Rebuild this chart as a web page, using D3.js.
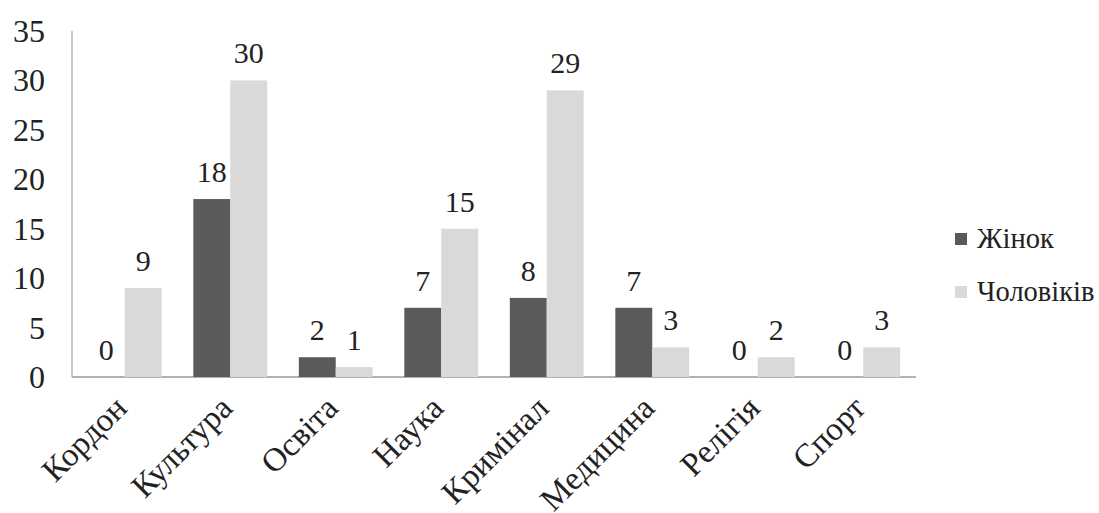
<html>
<head>
<script src="https://d3js.org/d3.v7.min.js"></script>
<style>
  body { margin: 0; background: #fff; }
  svg text { font-family: 'Liberation Serif', 'Times New Roman', Tinos, serif; }
</style>
</head>
<body>
<script>
    const categories = ["Кордон", "Культура", "Освіта", "Наука", "Кримінал", "Медицина", "Релігія", "Спорт"];
    const women = [0, 18, 2, 7, 8, 7, 0, 0];
    const men = [9, 30, 1, 15, 29, 3, 2, 3];
    const seriesNames = ["Жінок", "Чоловіків"];
    const colors = ["#5a5a5a", "#d9d9d9"];
    const yTicks = [0, 5, 10, 15, 20, 25, 30, 35];

    const W = 1099, H = 513;

    const svg = d3.select("body").append("svg")
        .attr("width", W)
        .attr("height", H)
        .style("font-family", "'Liberation Serif', serif");

    const x = d3.scaleBand().domain(categories).range([72, 916]).paddingInner(0.3).paddingOuter(0.15);
    const x1 = d3.scaleBand().domain(seriesNames).range([0, x.bandwidth()]);
    const y = d3.scaleLinear().domain([0, 35]).range([377, 31]);

    // y tick labels, no tick lines
    svg.selectAll(".ytick").data(yTicks).enter().append("text")
        .attr("x", 45)
        .attr("y", d => y(d) + 11)
        .attr("text-anchor", "end")
        .attr("font-size", 32)
        .attr("fill", "#222")
        .text(d => d);

    // axes lines
    svg.append("line").attr("x1", 72).attr("x2", 72).attr("y1", 31).attr("y2", 377)
        .attr("stroke", "#b5b5b5").attr("stroke-width", 1.5);
    svg.append("line").attr("x1", 72).attr("x2", 916).attr("y1", 377).attr("y2", 377)
        .attr("stroke", "#999").attr("stroke-width", 1.5);

    const rows = categories.map((c, i) => ({cat: c, vals: [women[i], men[i]]}));

    const g = svg.selectAll(".grp").data(rows).enter().append("g")
        .attr("transform", d => `translate(${x(d.cat)},0)`);

    g.selectAll("rect").data(d => d.vals).enter().append("rect")
        .attr("x", (d, i) => x1(seriesNames[i]))
        .attr("y", d => y(d))
        .attr("width", x1.bandwidth())
        .attr("height", d => y(0) - y(d))
        .attr("fill", (d, i) => colors[i]);

    g.selectAll("text").data(d => d.vals).enter().append("text")
        .attr("x", (d, i) => x1(seriesNames[i]) + x1.bandwidth() / 2)
        .attr("y", d => y(d) - 17)
        .attr("text-anchor", "middle")
        .attr("font-size", 30)
        .attr("fill", "#222")
        .text(d => d);

    // category labels rotated
    svg.selectAll(".xlab").data(categories).enter().append("text")
        .attr("transform", d => `translate(${x(d) + x.bandwidth() / 2 + 4},${410}) rotate(-45)`)
        .attr("text-anchor", "end")
        .attr("font-size", 33)
        .attr("fill", "#222")
        .text(d => d);

    // legend
    const leg = svg.selectAll(".leg").data(seriesNames).enter().append("g")
        .attr("transform", (d, i) => `translate(955,${233 + i * 53})`);
    leg.append("rect").attr("width", 12).attr("height", 12).attr("fill", (d, i) => colors[i]);
    leg.append("text").attr("x", 22).attr("y", 15)
        .attr("font-size", 28.5).attr("fill", "#222").text(d => d);
</script>
</body>
</html>
